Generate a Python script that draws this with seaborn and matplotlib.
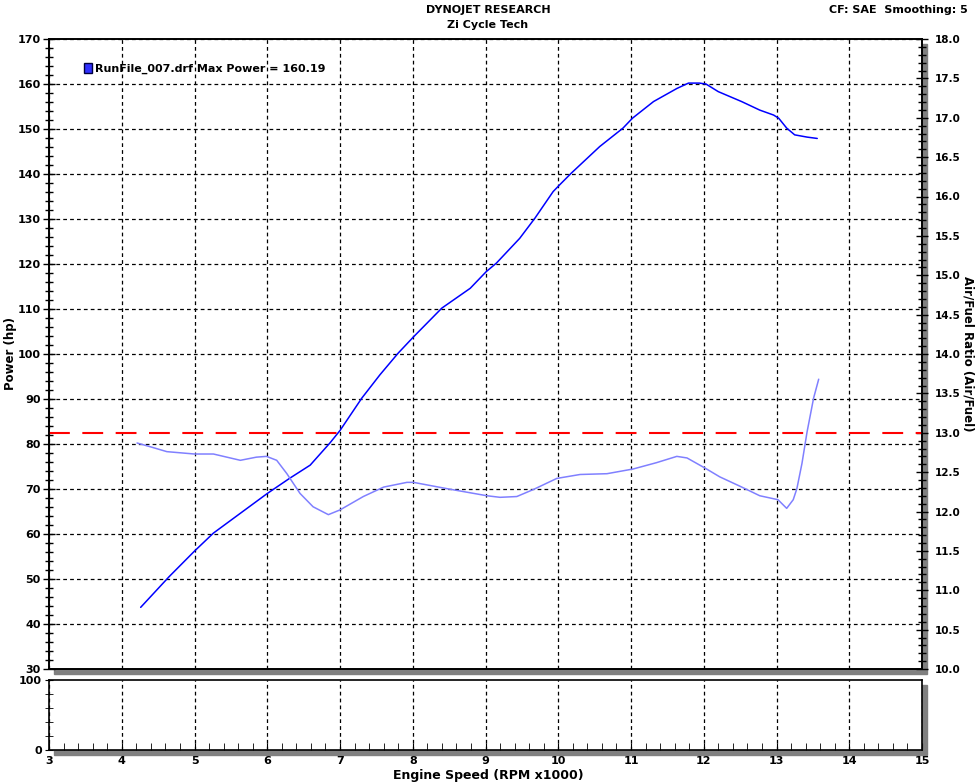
import numpy as np
import pandas as pd
import matplotlib
matplotlib.use("Agg")
import matplotlib.pyplot as plt
import seaborn as sns
from matplotlib.patches import Rectangle, Patch
from matplotlib.ticker import MultipleLocator, FormatStrFormatter

# power curve
rpm_power = [4.26, 4.65, 5.00, 5.26, 5.63, 6.00, 6.31, 6.59, 6.86, 7.00, 7.30, 7.55, 7.80,
             8.01, 8.40, 8.79, 9.01, 9.15, 9.47, 9.68, 9.93, 10.02, 10.18, 10.57, 10.89,
             11.02, 11.31, 11.63, 11.79, 11.94, 12.03, 12.20, 12.52, 12.77, 12.96, 13.03,
             13.14, 13.25, 13.42, 13.56]
hp = [43.7, 50.5, 56.2, 60.2, 64.6, 69.0, 72.4, 75.3, 80.2, 83.0, 90.2, 95.4, 100.2,
      103.8, 110.2, 114.6, 118.3, 120.2, 125.7, 130.2, 136.1, 137.6, 140.2, 146.1, 150.2,
      152.4, 156.1, 159.0, 160.2, 160.2, 160.0, 158.3, 156.1, 154.2, 153.1, 152.4,
      150.2, 148.7, 148.2, 147.9]

# air/fuel ratio curve
rpm_afr = [4.21, 4.40, 4.62, 5.00, 5.26, 5.63, 5.85, 5.99, 6.13, 6.27, 6.45, 6.63, 6.84,
           7.00, 7.32, 7.60, 7.92, 8.01, 8.47, 9.02, 9.20, 9.43, 9.66, 9.98, 10.30, 10.67,
           11.03, 11.35, 11.63, 11.77, 12.02, 12.22, 12.50, 12.77, 13.02, 13.14, 13.23,
           13.28, 13.35, 13.42, 13.51, 13.58]
afr = [12.87, 12.82, 12.76, 12.73, 12.73, 12.65, 12.69, 12.70, 12.65, 12.48, 12.23, 12.06,
       11.96, 12.02, 12.19, 12.31, 12.37, 12.37, 12.29, 12.20, 12.18, 12.19, 12.28, 12.42,
       12.47, 12.48, 12.54, 12.62, 12.70, 12.68, 12.55, 12.44, 12.32, 12.20, 12.15, 12.04,
       12.15, 12.29, 12.61, 13.01, 13.44, 13.68]

target_afr = 13.0
run_label = "RunFile_007.drf Max Power = 160.19"

sns.set_style("white")
plt.rcParams["font.family"] = ["DejaVu Sans"]
plt.rcParams["font.weight"] = "bold"
for k in ("text.color", "axes.labelcolor", "xtick.color", "ytick.color"):
    plt.rcParams[k] = "black"

W, H = 976, 783
fig = plt.figure(figsize=(W / 100, H / 100), dpi=100)

def fig_rect(x0, y0, x1, y1):
    return [x0 / W, 1 - y1 / H, (x1 - x0) / W, (y1 - y0) / H]

ax = fig.add_axes(fig_rect(49, 39, 922, 669))
ax_low = fig.add_axes(fig_rect(49, 680, 922, 750))

# drop shadows
for a in (ax, ax_low):
    p = a.get_position()
    fig.add_artist(Rectangle((p.x0 + 5 / W, p.y0 - 5 / H), p.width, p.height,
                             transform=fig.transFigure, color="#808080", zorder=-1))

df_p = pd.DataFrame({"rpm": rpm_power, "hp": hp})
df_a = pd.DataFrame({"rpm": rpm_afr, "afr": afr})

sns.lineplot(data=df_p, x="rpm", y="hp", ax=ax, color="#0000ff", lw=1.1)
ax.set_xlim(3, 15)
ax.set_ylim(30, 170)
ax.set_xlabel("")
ax.set_ylabel("Power (hp)", fontsize=8.5, fontweight="bold", va="center")
ax.yaxis.set_label_coords((11 - 49) / 873, 0.5)
ax.yaxis.set_major_locator(MultipleLocator(10))
ax.yaxis.set_minor_locator(MultipleLocator(2))
ax.xaxis.set_major_locator(MultipleLocator(1))
ax.tick_params(axis="y", which="major", direction="inout", length=8, width=1,
               labelsize=8, pad=2, left=True)
ax.tick_params(axis="y", which="minor", direction="inout", length=6, width=1, left=True)
ax.tick_params(axis="x", bottom=False, labelbottom=False)
ax.grid(True, which="major", color="black", linestyle=(0, (3, 2.5)), lw=0.9)
for s in ax.spines.values():
    s.set_color("black")
    s.set_linewidth(1.2)

ax2 = ax.twinx()
sns.lineplot(data=df_a, x="rpm", y="afr", ax=ax2, color="#8080ff", lw=1.1)
ax2.axhline(target_afr, color="#ff0000", lw=1.5, dashes=(10, 6))
ax2.set_ylim(10, 18)
ax2.set_xlim(3, 15)
ax2.set_ylabel("Air/Fuel Ratio (Air/Fuel)", fontsize=8.5, fontweight="bold", rotation=-90,
               va="center")
ax2.yaxis.set_label_coords((968 - 49) / 873, 0.5)
ax2.yaxis.set_major_locator(MultipleLocator(0.5))
ax2.yaxis.set_minor_locator(MultipleLocator(0.1))
ax2.yaxis.set_major_formatter(FormatStrFormatter("%.1f"))
ax2.tick_params(axis="y", which="major", direction="inout", length=8, width=1,
                labelsize=7.5, pad=5, right=True)
ax2.tick_params(axis="y", which="minor", direction="inout", length=6, width=1, right=True)
for s in ax2.spines.values():
    s.set_linewidth(1.2)
    s.set_color("black")

ax.legend(handles=[Patch(facecolor="#3030ff", edgecolor="#000040")], labels=[run_label],
          loc="upper left", bbox_to_anchor=(0.04, 0.962), frameon=False, fontsize=8,
          handlelength=0.7, handleheight=1.0, handletextpad=0.3, borderpad=0,
          borderaxespad=0)

# lower (empty) panel
ax_low.set_xlim(3, 15)
ax_low.set_ylim(0, 100)
ax_low.set_yticks([0, 100])
ax_low.yaxis.set_minor_locator(MultipleLocator(20))
ax_low.xaxis.set_major_locator(MultipleLocator(1))
ax_low.xaxis.set_minor_locator(MultipleLocator(0.2))
ax_low.tick_params(axis="y", which="major", direction="inout", length=6, labelsize=8,
                   pad=2, left=True)
ax_low.tick_params(axis="y", which="minor", direction="inout", length=6, left=True)
ax_low.tick_params(axis="x", which="major", direction="in", length=5, labelsize=8,
                   pad=4, bottom=True)
ax_low.tick_params(axis="x", which="minor", direction="in", length=5, bottom=True)
ax_low.grid(True, axis="x", which="major", color="black", linestyle=(0, (3, 2.5)), lw=0.9)
ax_low.set_xlabel("Engine Speed (RPM x1000)", fontsize=9, fontweight="bold", va="center")
ax_low.xaxis.set_label_coords((488 - 49) / 873, (750 - 775) / 70)
for s in ax_low.spines.values():
    s.set_color("black")
    s.set_linewidth(1.2)

fig.text(488 / W, 1 - 10 / H, "DYNOJET RESEARCH", ha="center", va="center",
         fontsize=8, fontweight="bold")
fig.text(488 / W, 1 - 25 / H, "Zi Cycle Tech", ha="center", va="center",
         fontsize=8, fontweight="bold")
fig.text(968 / W, 1 - 10 / H, "CF: SAE  Smoothing: 5", ha="right", va="center",
         fontsize=8, fontweight="bold")

fig.savefig("out.png", dpi=100, facecolor="white")
